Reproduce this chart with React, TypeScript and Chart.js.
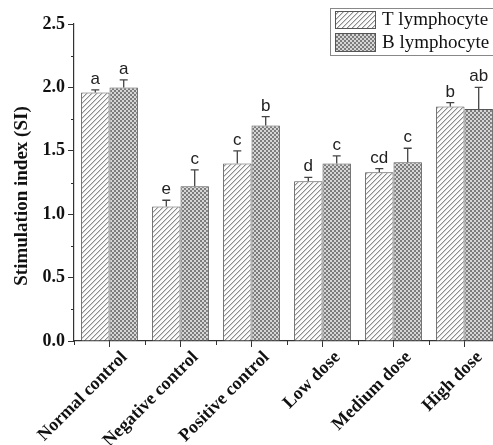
import React, { useEffect, useRef } from "react";
import { Chart, registerables } from "chart.js";

Chart.register(...registerables);

const categories = ["Normal control", "Negative control", "Positive control", "Low dose", "Medium dose", "High dose"];
const seriesNames = ["T lymphocyte", "B lymphocyte"];
const tValues = [1.96, 1.06, 1.4, 1.26, 1.33, 1.85];
const bValues = [2.0, 1.22, 1.7, 1.4, 1.41, 1.83];
const tErrors = [0.02, 0.05, 0.1, 0.03, 0.03, 0.03];
const bErrors = [0.06, 0.13, 0.07, 0.06, 0.11, 0.17];
const tLetters = ["a", "e", "c", "d", "cd", "b"];
const bLetters = ["a", "c", "b", "c", "c", "ab"];
const yTicks = [0, 0.5, 1.0, 1.5, 2.0, 2.5];
const yMinorTicks = [0.25, 0.75, 1.25, 1.75, 2.25];
const yTitle = "Stimulation index (SI)";

function makeHatch(): CanvasPattern | string {
  const c = document.createElement("canvas");
  c.width = 5;
  c.height = 5;
  const g = c.getContext("2d");
  if (!g) return "#eee";
  g.fillStyle = "#fbfbfb";
  g.fillRect(0, 0, 5, 5);
  for (let i = 0; i < 5; i++) {
    g.fillStyle = "#8c8c8c";
    g.fillRect(i, 4 - i, 1, 1);
    g.fillStyle = "#cfcfcf";
    g.fillRect(i, (5 - i) % 5, 1, 1);
  }
  return g.createPattern(c, "repeat") || "#eee";
}

function makeChecker(): CanvasPattern | string {
  const c = document.createElement("canvas");
  c.width = 4;
  c.height = 4;
  const g = c.getContext("2d");
  if (!g) return "#aaa";
  g.fillStyle = "#d6d6d6";
  g.fillRect(0, 0, 4, 4);
  g.fillStyle = "#7c7c7c";
  g.fillRect(0, 0, 2, 2);
  g.fillRect(2, 2, 2, 2);
  return g.createPattern(c, "repeat") || "#aaa";
}

export default function App() {
  const ref = useRef<HTMLCanvasElement | null>(null);

  useEffect(() => {
    const canvas = ref.current;
    if (!canvas) return;
    const hatch = makeHatch();
    const checker = makeChecker();
    const patterns = [hatch, checker];
    const vals = [tValues, bValues];
    const errs = [tErrors, bErrors];
    const letters = [tLetters, bLetters];

    const overlay = {
      id: "overlay",
      afterDatasetsDraw(chart: any) {
        const ctx = chart.ctx;
        const ys = chart.scales.y;
        chart.data.datasets.forEach((_ds: any, di: number) => {
          const meta = chart.getDatasetMeta(di);
          meta.data.forEach((bar: any, i: number) => {
            const top = ys.getPixelForValue(vals[di][i] + errs[di][i]);
            ctx.save();
            ctx.strokeStyle = "#444";
            ctx.lineWidth = 1.3;
            ctx.beginPath();
            ctx.moveTo(bar.x, bar.y);
            ctx.lineTo(bar.x, top);
            ctx.moveTo(bar.x - 4, top);
            ctx.lineTo(bar.x + 4, top);
            ctx.stroke();
            ctx.fillStyle = "#222";
            ctx.font = '17px "Liberation Sans"';
            ctx.textAlign = "center";
            ctx.textBaseline = "alphabetic";
            ctx.fillText(letters[di][i], bar.x, top - 6);
            ctx.restore();
          });
        });
      },
      afterDraw(chart: any) {
        const ctx = chart.ctx;
        const xs = chart.scales.x;
        const ys = chart.scales.y;
        const area = chart.chartArea;
        ctx.save();
        ctx.strokeStyle = "#333";
        ctx.lineWidth = 1;
        ctx.beginPath();
        const n = categories.length;
        for (let i = 0; i <= n; i++) {
          const px = Math.round(area.left + (i * (area.right - area.left)) / n) + 0.5;
          ctx.moveTo(px, area.bottom);
          ctx.lineTo(px, area.bottom + 4);
        }
        yMinorTicks.forEach((v) => {
          const py = Math.round(ys.getPixelForValue(v)) + 0.5;
          ctx.moveTo(area.left - 3, py);
          ctx.lineTo(area.left, py);
        });
        ctx.stroke();

        // y title
        ctx.save();
        ctx.translate(22, 196);
        ctx.rotate(-Math.PI / 2);
        ctx.fillStyle = "#111";
        ctx.font = 'bold 19px "Liberation Serif"';
        ctx.textAlign = "center";
        ctx.textBaseline = "middle";
        ctx.fillText(yTitle, 0, 0);
        ctx.restore();

        // legend
        ctx.fillStyle = "#fff";
        ctx.fillRect(330.5, 8.5, 200, 47);
        ctx.strokeStyle = "#888";
        ctx.strokeRect(330.5, 8.5, 200, 47);
        const rows = [
          { y: 11, h: 18, ty: 20 },
          { y: 33, h: 19, ty: 43 },
        ];
        rows.forEach((r, k) => {
          ctx.fillStyle = patterns[k] as any;
          ctx.fillRect(335, r.y, 41, r.h);
          ctx.strokeStyle = "#555";
          ctx.strokeRect(335.5, r.y + 0.5, 40, r.h - 1);
          ctx.fillStyle = "#111";
          ctx.font = '19px "Liberation Serif"';
          ctx.textAlign = "left";
          ctx.textBaseline = "middle";
          ctx.fillText(seriesNames[k], 382, r.ty);
        });
        ctx.restore();
        void xs;
      },
    };

    const chart = new Chart(canvas, {
      type: "bar",
      data: {
        labels: categories,
        datasets: [
          {
            label: seriesNames[0],
            data: tValues,
            backgroundColor: hatch as any,
            borderColor: "#555",
            borderWidth: 1,
            categoryPercentage: 0.8,
            barPercentage: 1.0,
          },
          {
            label: seriesNames[1],
            data: bValues,
            backgroundColor: checker as any,
            borderColor: "#555",
            borderWidth: 1,
            categoryPercentage: 0.8,
            barPercentage: 1.0,
          },
        ],
      },
      options: {
        responsive: false,
        animation: false,
        devicePixelRatio: 1,
        layout: { padding: { left: 0, top: 24, right: 15, bottom: 0 } },
        plugins: {
          legend: { display: false },
          tooltip: { enabled: false },
          title: { display: false },
        },
        scales: {
          x: {
            offset: true,
            grid: {
              offset: false,
              drawOnChartArea: false,
              drawTicks: true,
              tickLength: 6,
              color: "#333",
            },
            border: { display: true, color: "#333", width: 1.2 },
            ticks: {
              autoSkip: false,
              maxRotation: 45,
              minRotation: 45,
              labelOffset: 15,
              padding: 0,
              color: "#111",
              font: { family: "Liberation Serif", size: 18, weight: "bold" },
            },
            afterFit(scale: any) {
              scale.height = 104;
            },
          },
          y: {
            min: 0,
            max: 2.5,
            afterBuildTicks(scale: any) {
              scale.ticks = yTicks.map((v) => ({ value: v }));
            },
            grid: {
              drawOnChartArea: false,
              drawTicks: true,
              tickLength: 6,
              color: "#333",
            },
            border: { display: true, color: "#333", width: 1.2 },
            ticks: {
              padding: 3,
              color: "#111",
              font: { family: "Liberation Serif", size: 18, weight: "bold" },
              callback: (v: any) => Number(v).toFixed(1),
            },
            afterFit(scale: any) {
              scale.width = 74;
            },
          },
        },
      },
      plugins: [overlay],
    });
    return () => chart.destroy();
  }, []);

  return (
    <div style={{ position: "fixed", left: 0, top: 0, width: 493, height: 445, overflow: "hidden", background: "#fff" }}>
      <canvas ref={ref} width={515} height={445} style={{ width: 515, height: 445, display: "block" }} />
    </div>
  );
}
